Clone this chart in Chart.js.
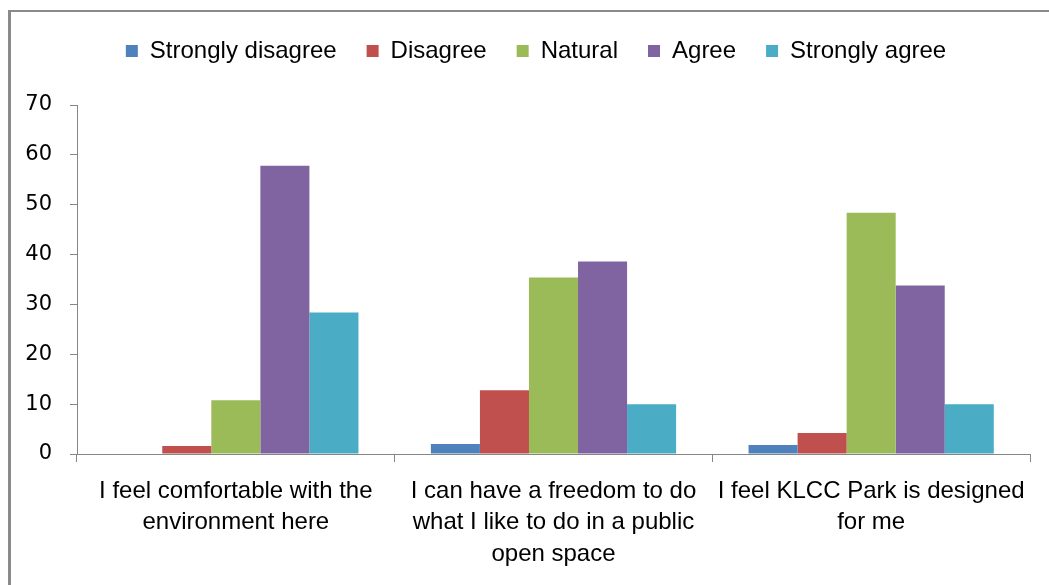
<!DOCTYPE html>
<html>
<head>
<meta charset="utf-8">
<script src="https://cdn.jsdelivr.net/npm/chart.js@4.4.0/dist/chart.umd.min.js"></script>
<style>
  html, body { margin: 0; padding: 0; background: #fff; }
  #wrap { position: relative; width: 1049px; height: 585px; }
</style>
</head>
<body>
<div id="wrap"><canvas id="chart" width="1049" height="585"></canvas></div>
<script>
// --- Data ---
const categories = [
    ['I feel comfortable with the', 'environment here'],
    ['I can have a freedom to do', 'what I like to do in a public', 'open space'],
    ['I feel KLCC Park is designed', 'for me']
];
const seriesNames = ['Strongly disagree', 'Disagree', 'Natural', 'Agree', 'Strongly agree'];
const stronglyDisagree = [0, 2.0, 1.8];
const disagree = [1.6, 12.8, 4.2];
const natural = [10.8, 35.4, 48.4];
const agree = [57.8, 38.6, 33.8];
const stronglyAgree = [28.4, 10.0, 10.0];
const yTicks = [0, 10, 20, 30, 40, 50, 60, 70];

const colors = ['#4F81BD', '#C0504D', '#9BBB59', '#8064A2', '#4BACC6'];
const seriesValues = [stronglyDisagree, disagree, natural, agree, stronglyAgree];

// frame line (top + left) like the pasted office chart
const framePlugin = {
    id: 'frame',
    beforeInit(chart) {
        const legend = chart.legend;
        if (legend) {
            // leave a gap between the legend and the plot, as in the original
            const origFit = legend.fit;
            legend.fit = function() {
                origFit.call(this);
                this.height += 32;
            };
            // legend sits a bit right of centre in the original
            const origDraw = legend.draw;
            legend.draw = function() {
                const ctx = this.ctx;
                ctx.save();
                ctx.translate(21, 0);
                origDraw.call(this);
                ctx.restore();
            };
        }
    },
    beforeDraw(chart) {
        const ctx = chart.ctx;
        ctx.save();
        ctx.fillStyle = '#fff';
        ctx.fillRect(0, 0, chart.width, chart.height);
        ctx.fillStyle = '#8a8a8a';
        ctx.fillRect(8, 10, chart.width - 8, 2);
        ctx.fillRect(8, 10, 3, chart.height - 10);
        ctx.restore();
    }
};

const labelFont = { family: "'Liberation Sans', Arial, sans-serif", size: 24, lineHeight: 1.3 };

new Chart(document.getElementById('chart'), {
    type: 'bar',
    data: {
        labels: categories,
        datasets: seriesNames.map((name, i) => ({
            label: name,
            data: seriesValues[i],
            backgroundColor: colors[i],
            borderWidth: 0,
            categoryPercentage: 0.772,
            barPercentage: 1.0
        }))
    },
    options: {
        responsive: false,
        animation: false,
        layout: { padding: { top: 9, right: 19, left: 0, bottom: 0 } },
        plugins: {
            legend: {
                position: 'top',
                labels: {
                    boxWidth: 12,
                    boxHeight: 12,
                    padding: 30,
                    color: '#000',
                    font: labelFont
                }
            },
            tooltip: { enabled: false }
        },
        scales: {
            x: {
                grid: {
                    offset: true,
                    drawOnChartArea: false,
                    drawTicks: true,
                    tickLength: 8,
                    color: '#868686'
                },
                border: { color: '#868686', width: 1 },
                ticks: {
                    color: '#000',
                    font: labelFont,
                    padding: 14,
                    maxRotation: 0,
                    autoSkip: false
                },
                afterFit: s => { s.height = 131; }
            },
            y: {
                min: 0,
                max: 70,
                afterBuildTicks: s => { s.ticks = yTicks.map(v => ({ value: v })); },
                grid: {
                    drawOnChartArea: false,
                    drawTicks: true,
                    tickLength: 7,
                    color: '#868686'
                },
                border: { color: '#868686', width: 1 },
                ticks: {
                    color: '#000',
                    font: { family: "'DejaVu Sans', Verdana, sans-serif", size: 21 },
                    padding: 18
                },
                afterFit: s => { s.width = 77; }
            }
        }
    },
    plugins: [framePlugin]
});
</script>
</body>
</html>
